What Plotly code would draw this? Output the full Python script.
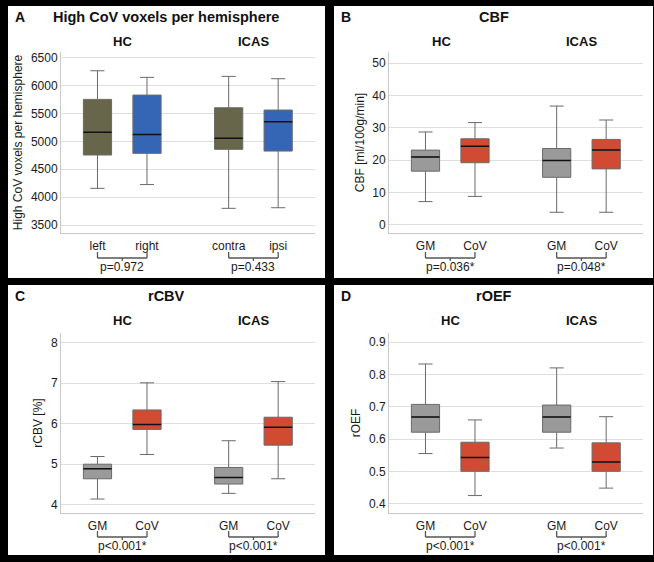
import plotly.graph_objects as go

W, H = 654, 562

# ---------------- data ----------------
groups = ["HC", "ICAS"]

a_title = "High CoV voxels per hemisphere"
a_ytitle = "High CoV voxels per hemisphere"
a_cats = ["left", "right", "contra", "ipsi"]
a_low = [4157, 4225, 3799, 3810]
a_q1 = [4754, 4784, 4856, 4825]
a_med = [5160, 5124, 5053, 5351]
a_q3 = [5751, 5828, 5601, 5560]
a_high = [6264, 6145, 6163, 6121]
a_p = ["p=0.972", "p=0.433"]
a_ticks = [3500, 4000, 4500, 5000, 5500, 6000, 6500]

b_title = "CBF"
b_ytitle = "CBF [ml/100g/min]"
b_cats = ["GM", "CoV", "GM", "CoV"]
b_low = [7.2, 8.8, 3.9, 3.9]
b_q1 = [16.6, 19.2, 14.7, 17.3]
b_med = [21.0, 24.3, 19.9, 23.1]
b_q3 = [23.1, 26.6, 23.6, 26.4]
b_high = [28.7, 31.6, 36.7, 32.4]
b_p = ["p=0.036*", "p=0.048*"]
b_ticks = [0, 10, 20, 30, 40, 50]

c_title = "rCBV"
c_ytitle = "rCBV [%]"
c_cats = ["GM", "CoV", "GM", "CoV"]
c_low = [4.14, 5.24, 4.28, 4.64]
c_q1 = [4.64, 5.86, 4.51, 5.47]
c_med = [4.89, 5.98, 4.67, 5.91]
c_q3 = [5.00, 6.34, 4.92, 6.16]
c_high = [5.19, 7.01, 5.58, 7.04]
c_p = ["p<0.001*", "p<0.001*"]
c_ticks = [4, 5, 6, 7, 8]

d_title = "rOEF"
d_ytitle = "rOEF"
d_cats = ["GM", "CoV", "GM", "CoV"]
d_low = [0.555, 0.425, 0.572, 0.448]
d_q1 = [0.621, 0.500, 0.621, 0.500]
d_med = [0.668, 0.543, 0.668, 0.529]
d_q3 = [0.707, 0.590, 0.705, 0.588]
d_high = [0.832, 0.659, 0.820, 0.669]
d_p = ["p<0.001*", "p<0.001*"]
d_ticks = [0.4, 0.5, 0.6, 0.7, 0.8, 0.9]

# ---------------- styling / layout ----------------
OLIVE = "#67664b"
BLUE = "#3566b6"
GRAY = "#9a9a9a"
RED = "#d14b32"

POS = [0, 1, 2.65, 3.65]
XR = [-0.737, 4.394]
BOXW = 0.57
FONT = "Liberation Sans, Arial, sans-serif"


def px_x(p):
    return p / W


def px_y(p):
    return 1 - p / H


panels = [
    dict(letter="A", title=a_title, ytitle=a_ytitle, cats=a_cats, low=a_low, q1=a_q1, med=a_med,
         q3=a_q3, high=a_high, p=a_p, ticks=a_ticks, colors=[OLIVE, BLUE, OLIVE, BLUE],
         yr=[3357, 6600], panel=(8, 6, 325, 278), plot=(61, 52, 315, 233), ytop=0, hc_shift=0),
    dict(letter="B", title=b_title, ytitle=b_ytitle, cats=b_cats, low=b_low, q1=b_q1, med=b_med,
         q3=b_q3, high=b_high, p=b_p, ticks=b_ticks, colors=[GRAY, RED, GRAY, RED],
         yr=[-2.5, 53.4], panel=(334, 6, 653, 278), plot=(389, 52, 643, 233), ytop=0, hc_shift=-9),
    dict(letter="C", title=c_title, ytitle=c_ytitle, cats=c_cats, low=c_low, q1=c_q1, med=c_med,
         q3=c_q3, high=c_high, p=c_p, ticks=c_ticks, colors=[GRAY, RED, GRAY, RED],
         yr=[3.795, 8.24], panel=(8, 285, 325, 555), plot=(61, 333, 315, 513), ytop=279, hc_shift=0),
    dict(letter="D", title=d_title, ytitle=d_ytitle, cats=d_cats, low=d_low, q1=d_q1, med=d_med,
         q3=d_q3, high=d_high, p=d_p, ticks=d_ticks, colors=[GRAY, RED, GRAY, RED],
         yr=[0.371, 0.928], panel=(334, 285, 653, 555), plot=(389, 333, 643, 513), ytop=279, hc_shift=0),
]

fig = go.Figure()
shapes = []
annotations = []
layout_axes = {}

for i, pn in enumerate(panels):
    n = "" if i == 0 else str(i + 1)
    xa, ya = "x" + n, "y" + n
    px0, py0, px1, py1 = pn["panel"]
    shapes.append(dict(type="rect", xref="paper", yref="paper", layer="below",
                       x0=px_x(px0), x1=px_x(px1), y0=px_y(py1), y1=px_y(py0),
                       fillcolor="white", line=dict(width=0)))
    lx0, ly0, lx1, ly1 = pn["plot"]

    # boxes
    for k in range(4):
        fig.add_trace(go.Box(
            x=[POS[k]], q1=[pn["q1"][k]], median=[pn["med"][k]], q3=[pn["q3"][k]],
            lowerfence=[pn["low"][k]], upperfence=[pn["high"][k]],
            width=BOXW, whiskerwidth=0.5, fillcolor=pn["colors"][k],
            line=dict(color="#6a6a6a", width=1), boxpoints=False,
            xaxis=xa, yaxis=ya, showlegend=False, hoverinfo="skip"))
        # dark median line
        fig.add_trace(go.Box(
            x=[POS[k]], q1=[pn["med"][k]], median=[pn["med"][k]], q3=[pn["med"][k]],
            lowerfence=[pn["med"][k]], upperfence=[pn["med"][k]],
            width=BOXW, whiskerwidth=0, fillcolor="rgba(0,0,0,0)",
            line=dict(color="#111111", width=1.5), boxpoints=False,
            xaxis=xa, yaxis=ya, showlegend=False, hoverinfo="skip"))

    layout_axes["xaxis" + n] = dict(
        domain=[px_x(lx0), px_x(lx1)], range=XR, anchor=ya,
        tickvals=POS, ticktext=pn["cats"], ticks="", showgrid=False, zeroline=False,
        showline=True, linecolor="#c9c9c9", linewidth=1, ticklabelstandoff=2,
        tickfont=dict(size=12, color="#1a1a1a", family=FONT), fixedrange=True)
    layout_axes["yaxis" + n] = dict(
        domain=[px_y(ly1), px_y(ly0)], range=pn["yr"], anchor=xa,
        tickvals=pn["ticks"], ticks="", showgrid=True, gridcolor="#dedede", gridwidth=1,
        zeroline=False, showline=True, linecolor="#c9c9c9", linewidth=1,
        tickfont=dict(size=12, color="#1a1a1a", family=FONT),
        title=dict(text=pn["ytitle"], standoff=5, font=dict(size=12, color="#1a1a1a", family=FONT)),
        fixedrange=True)

    yo = pn["ytop"]
    # panel letter and title
    annotations.append(dict(text="<b>%s</b>" % pn["letter"], xref="paper", yref="paper",
                            x=px_x(px0 + 12), y=px_y(yo + 17), showarrow=False,
                            xanchor="center", yanchor="middle",
                            font=dict(size=14, color="#111", family=FONT)))
    annotations.append(dict(text="<b>%s</b>" % pn["title"], xref="paper", yref="paper",
                            x=px_x((px0 + px1) / 2), y=px_y(yo + 17), showarrow=False,
                            xanchor="center", yanchor="middle",
                            font=dict(size=14.5, color="#111", family=FONT)))
    # group labels, brackets and p-values
    for g in range(2):
        a, b = POS[2 * g], POS[2 * g + 1]
        mid = (a + b) / 2
        annotations.append(dict(text="<b>%s</b>" % groups[g], xref=xa, yref="paper",
                                x=mid, y=px_y(yo + 41.5), showarrow=False,
                                xshift=pn["hc_shift"] if g == 0 else 0,
                                xanchor="center", yanchor="middle",
                                font=dict(size=13, color="#111", family=FONT)))
        ybr = px_y(yo + 258)
        col = "#555555"
        shapes.append(dict(type="line", xref=xa, yref="paper", x0=a, x1=b, y0=ybr, y1=ybr,
                           line=dict(color=col, width=1.3)))
        shapes.append(dict(type="line", xref=xa, yref="paper", x0=a, x1=a, y0=ybr, y1=px_y(yo + 252),
                           line=dict(color=col, width=1.3)))
        shapes.append(dict(type="line", xref=xa, yref="paper", x0=b, x1=b, y0=ybr, y1=px_y(yo + 252),
                           line=dict(color=col, width=1.3)))
        shapes.append(dict(type="line", xref=xa, yref="paper", x0=mid, x1=mid, y0=ybr, y1=px_y(yo + 261),
                           line=dict(color=col, width=1.3)))
        annotations.append(dict(text=pn["p"][g].replace("<", "&lt;"), xref=xa, yref="paper",
                                x=mid, y=px_y(yo + 267), showarrow=False,
                                xanchor="center", yanchor="middle",
                                font=dict(size=12, color="#1a1a1a", family=FONT)))

fig.update_layout(
    width=W, height=H, margin=dict(l=0, r=0, t=0, b=0, pad=0),
    paper_bgcolor="black", plot_bgcolor="white",
    shapes=shapes, annotations=annotations, boxmode="overlay",
    font=dict(family=FONT, color="#1a1a1a"),
    **layout_axes)

fig.write_html("out.html", config={"displayModeBar": False},
               post_script="document.body.style.margin='0px';document.body.style.background='black';")
